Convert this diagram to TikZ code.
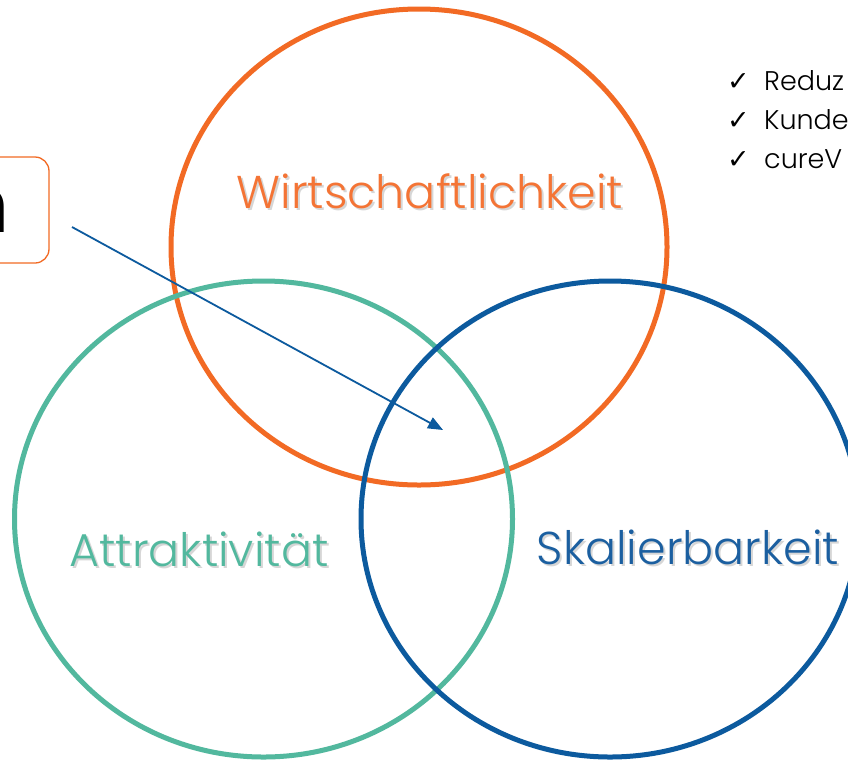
\documentclass[tikz,border=0pt]{standalone}
\usepackage{fontspec}
\setmainfont{Poppins}[UprightFont=* Light]
\newfontfamily\symfont{DejaVu Sans}
\usetikzlibrary{arrows.meta,shapes.geometric}
\definecolor{corange}{HTML}{F26A24}
\definecolor{cteal}{HTML}{52B89E}
\definecolor{cblue}{HTML}{0C5A9E}
\definecolor{tblue}{HTML}{1B5FA0}
\definecolor{torange}{HTML}{F47435}
\newcommand\shadowed[2]{\makebox[0pt][l]{\hspace{2pt}\raisebox{-2pt}{\textcolor{black!16}{#2}}}\textcolor{#1}{#2}}
\tikzset{
  ring/.style={line width=5pt},
  biglabel/.style={font=\fontsize{46}{52}\selectfont, inner sep=0pt, anchor=base},
  checkmk/.style={font=\symfont\bfseries\fontsize{27}{30}\selectfont, inner sep=0pt, anchor=base west},
  checkline/.style={font=\fontsize{27}{32}\selectfont, inner sep=0pt, anchor=base west},
  boxstyle/.style={draw=corange, line width=1.3pt, rounded corners=14pt, inner sep=0pt,
     minimum width=200pt, minimum height=106pt, text width=122pt, align=right,
     font=\fontsize{80}{90}\selectfont\mdseries},
  pointer/.style={draw=cblue, line width=1.8pt, -{Triangle[length=15pt,width=12pt]}}
}
\begin{document}
\begin{tikzpicture}[x=1pt,y=-1pt]
\useasboundingbox (0,0) rectangle (848,764);
\fill[white] (0,0) rectangle (848,764);
% circles
\draw[ring, corange] (419,247) ellipse [x radius=248, y radius=238];
\draw[ring, cteal] (263.5,519) ellipse [x radius=249, y radius=238];
\draw[ring, cblue] (610,519) ellipse [x radius=249, y radius=238];
% labels with soft shadow
\node[biglabel] (wirt) at (430,208) {\shadowed{torange}{Wirtschaftlichkeit}};
\node[biglabel] (attr) at (199,566) {\shadowed{cteal}{Attraktivität}};
\node[biglabel] (skal) at (688,564) {\shadowed{tblue}{Skalierbarkeit}};
% box at left
\node[boxstyle] (box) at (-51,210) {n};
% arrow
\coordinate (arrowstart) at (72,227);
\coordinate (arrowend) at (443,430);
\draw[pointer] (arrowstart) -- (arrowend);
% check list
\node[checkmk] (k1) at (727,90) {✓};
\node[checkline] (c1) at (764,90) {Reduz};
\node[checkmk] (k2) at (727,129) {✓};
\node[checkline] (c2) at (764,129) {Kunde};
\node[checkmk] (k3) at (727,168) {✓};
\node[checkline] (c3) at (764,168) {cureV};
\end{tikzpicture}
\end{document}
